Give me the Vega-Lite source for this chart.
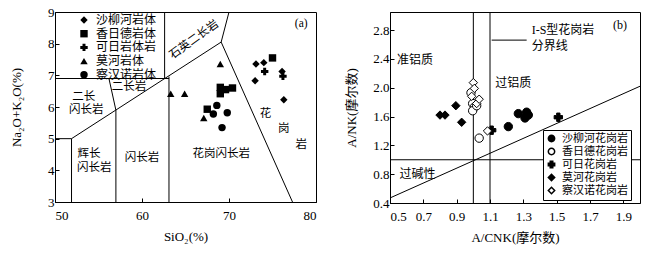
{
  "$schema": "https://vega.github.io/schema/vega-lite/v6.json",
  "background": "white",
  "padding": {"left": 10, "top": 5, "right": 0, "bottom": 0},
  "spacing": 28,
  "config": {
    "view": {"stroke": "black", "strokeWidth": 1},
    "font": "Liberation Serif",
    "axis": {
      "grid": false,
      "domainColor": "black",
      "tickColor": "black",
      "labelColor": "black",
      "titleColor": "black",
      "labelFont": "Liberation Serif",
      "labelFontSize": 13,
      "titleFont": "Liberation Serif, Noto Sans CJK SC",
      "titleFontSize": 13,
      "titleFontWeight": "normal",
      "tickSize": -4
    },
    "legend": {
      "title": null,
      "labelFont": "Noto Sans CJK SC",
      "labelColor": "black"
    }
  },
  "datasets": {
    "linesA": [
      {"x": 50, "y": 5.0, "x2": 51.9, "y2": 5.0},
      {"x": 51.9, "y": 3, "x2": 51.9, "y2": 5.0},
      {"x": 51.9, "y": 5.0, "x2": 69.1, "y2": 8.05},
      {"x": 57, "y": 3, "x2": 57, "y2": 5.9},
      {"x": 57, "y": 5.9, "x2": 56.2, "y2": 6.9},
      {"x": 50, "y": 6.9, "x2": 63.1, "y2": 6.9},
      {"x": 63.1, "y": 3, "x2": 63.1, "y2": 6.96},
      {"x": 62.6, "y": 6.9, "x2": 62.6, "y2": 9},
      {"x": 69.1, "y": 8.05, "x2": 70, "y2": 9},
      {"x": 69.1, "y": 8.05, "x2": 77.3, "y2": 3}
    ],
    "textA": [
      {"x": 78.3, "y": 8.62, "label": "(a)"},
      {"x": 58.5, "y": 6.63, "label": "二长岩"},
      {"x": 53.3, "y": 6.31, "label": "二长"},
      {"x": 53.6, "y": 5.92, "label": "闪长岩"},
      {"x": 53.9, "y": 4.52, "label": "辉长"},
      {"x": 54.5, "y": 4.07, "label": "闪长岩"},
      {"x": 60.0, "y": 4.39, "label": "闪长岩"},
      {"x": 69.1, "y": 4.52, "label": "花岗闪长岩"},
      {"x": 74.2, "y": 5.78, "label": "花"},
      {"x": 76.3, "y": 5.3, "label": "岗"},
      {"x": 78.3, "y": 4.8, "label": "岩"}
    ],
    "textA2": [
      {"x": 66.0, "y": 8.12, "label": "石英二长岩"}
    ],
    "pointsA": [
      {"x": 73.1, "y": 7.36, "rock": "沙柳河岩体"},
      {"x": 74.0, "y": 7.4, "rock": "沙柳河岩体"},
      {"x": 73.0, "y": 6.83, "rock": "沙柳河岩体"},
      {"x": 76.1, "y": 7.12, "rock": "沙柳河岩体"},
      {"x": 76.3, "y": 6.23, "rock": "沙柳河岩体"},
      {"x": 75.0, "y": 7.55, "rock": "香日德岩体"},
      {"x": 69.0, "y": 6.62, "rock": "香日德岩体"},
      {"x": 69.6, "y": 6.55, "rock": "香日德岩体"},
      {"x": 70.4, "y": 6.6, "rock": "香日德岩体"},
      {"x": 69.0, "y": 6.42, "rock": "香日德岩体"},
      {"x": 67.5, "y": 5.93, "rock": "香日德岩体"},
      {"x": 74.1, "y": 7.12, "rock": "可日岩体岩"},
      {"x": 76.2, "y": 6.97, "rock": "可日岩体岩"},
      {"x": 69.0, "y": 7.36, "rock": "莫河岩体"},
      {"x": 63.3, "y": 6.42, "rock": "莫河岩体"},
      {"x": 64.9, "y": 6.42, "rock": "莫河岩体"},
      {"x": 67.1, "y": 5.65, "rock": "莫河岩体"},
      {"x": 68.6, "y": 6.05, "rock": "察汉诺岩体"},
      {"x": 69.8, "y": 5.82, "rock": "察汉诺岩体"},
      {"x": 69.2, "y": 5.35, "rock": "察汉诺岩体"},
      {"x": 68.2, "y": 5.78, "rock": "察汉诺岩体"}
    ],
    "linesB": [
      {"x": 1.0, "y": 0.4, "x2": 1.0, "y2": 3.05},
      {"x": 1.1, "y": 0.4, "x2": 1.1, "y2": 3.05},
      {"x": 0.5, "y": 1.0, "x2": 2.0, "y2": 1.0},
      {"x": 0.5, "y": 0.47, "x2": 2.0, "y2": 2.02},
      {"x": 1.11, "y": 2.66, "x2": 1.32, "y2": 2.66}
    ],
    "textB": [
      {"x": 1.88, "y": 2.87, "label": "(b)"},
      {"x": 0.65, "y": 2.38, "label": "准铝质"},
      {"x": 1.24, "y": 2.06, "label": "过铝质"},
      {"x": 0.665, "y": 0.8, "label": "过碱性"}
    ],
    "textB2": [
      {"x": 1.35, "y": 2.8, "label": "I-S型花岗岩"},
      {"x": 1.35, "y": 2.58, "label": "分界线"}
    ],
    "pointsB": [
      {"x": 1.21, "y": 1.46, "granite": "沙柳河花岗岩"},
      {"x": 1.27, "y": 1.64, "granite": "沙柳河花岗岩"},
      {"x": 1.32, "y": 1.66, "granite": "沙柳河花岗岩"},
      {"x": 1.31, "y": 1.58, "granite": "沙柳河花岗岩"},
      {"x": 1.33, "y": 1.62, "granite": "沙柳河花岗岩"},
      {"x": 0.986, "y": 1.93, "granite": "香日德花岗岩"},
      {"x": 0.996, "y": 1.78, "granite": "香日德花岗岩"},
      {"x": 1.006, "y": 1.73, "granite": "香日德花岗岩"},
      {"x": 0.996, "y": 1.68, "granite": "香日德花岗岩"},
      {"x": 1.02, "y": 1.75, "granite": "香日德花岗岩"},
      {"x": 1.035, "y": 1.3, "granite": "香日德花岗岩"},
      {"x": 1.11, "y": 1.41, "granite": "可日花岗岩"},
      {"x": 1.51, "y": 1.59, "granite": "可日花岗岩"},
      {"x": 0.8, "y": 1.62, "granite": "莫河花岗岩"},
      {"x": 0.83, "y": 1.62, "granite": "莫河花岗岩"},
      {"x": 0.895, "y": 1.75, "granite": "莫河花岗岩"},
      {"x": 0.93, "y": 1.52, "granite": "莫河花岗岩"},
      {"x": 1.0, "y": 2.07, "granite": "察汉诺花岗岩"},
      {"x": 1.006, "y": 1.99, "granite": "察汉诺花岗岩"},
      {"x": 1.02, "y": 1.78, "granite": "察汉诺花岗岩"},
      {"x": 1.035, "y": 1.84, "granite": "察汉诺花岗岩"},
      {"x": 1.085, "y": 1.4, "granite": "察汉诺花岗岩"},
      {"x": 0.99, "y": 1.88, "granite": "察汉诺花岗岩"}
    ]
  },
  "resolve": {
    "scale": {"shape": "independent", "fill": "independent", "color": "independent"},
    "legend": {"shape": "independent", "fill": "independent"}
  },
  "hconcat": [
    {
      "width": 261,
      "height": 190,
      "layer": [
        {
          "data": {"name": "linesA"},
          "mark": {"type": "rule", "color": "black", "strokeWidth": 1},
          "encoding": {
            "x": {"field": "x", "type": "quantitative", "scale": {"domain": [50, 80], "nice": false, "zero": false},
                  "axis": {"values": [50, 60, 70, 80], "tickCount": 20, "format": "d", "title": "SiO₂(%)", "titlePadding": 8, "labelPadding": 11, "labelOverlap": false}},
            "y": {"field": "y", "type": "quantitative", "scale": {"domain": [3, 9], "nice": false, "zero": false},
                  "axis": {"values": [3, 4, 5, 6, 7, 8, 9], "tickCount": 20, "format": "d", "title": "Na₂O+K₂O(%)", "titlePadding": 24, "labelPadding": 5, "labelOverlap": false}},
            "x2": {"field": "x2"},
            "y2": {"field": "y2"}
          }
        },
        {
          "data": {"name": "textA"},
          "mark": {"type": "text", "font": "Liberation Serif, Noto Sans CJK SC", "fontSize": 11.5, "color": "black", "align": "center", "baseline": "middle"},
          "encoding": {
            "x": {"field": "x", "type": "quantitative"},
            "y": {"field": "y", "type": "quantitative"},
            "text": {"field": "label"}
          }
        },
        {
          "data": {"name": "textA2"},
          "mark": {"type": "text", "font": "Noto Sans CJK SC", "fontSize": 11.5, "color": "black", "align": "center", "baseline": "middle", "angle": -36},
          "encoding": {
            "x": {"field": "x", "type": "quantitative"},
            "y": {"field": "y", "type": "quantitative"},
            "text": {"field": "label"}
          }
        },
        {
          "data": {"name": "pointsA"},
          "mark": {"type": "point", "filled": true, "color": "black", "size": 55, "opacity": 1},
          "encoding": {
            "x": {"field": "x", "type": "quantitative"},
            "y": {"field": "y", "type": "quantitative"},
            "shape": {
              "field": "rock", "type": "nominal",
              "scale": {"domain": ["沙柳河岩体", "香日德岩体", "可日岩体岩", "莫河岩体", "察汉诺岩体"],
                        "range": ["diamond", "square", "cross", "triangle-up", "circle"]},
              "legend": {"orient": "none", "legendX": 23, "legendY": 2, "labelFontSize": 12, "symbolSize": 55,
                         "symbolFillColor": "black", "rowPadding": -0.3, "labelOffset": 6, "padding": 0}
            }
          }
        }
      ]
    },
    {
      "width": 250,
      "height": 191,
      "layer": [
        {
          "data": {"name": "linesB"},
          "mark": {"type": "rule", "color": "black", "strokeWidth": 1},
          "encoding": {
            "x": {"field": "x", "type": "quantitative", "scale": {"domain": [0.5, 2.0], "nice": false, "zero": false},
                  "axis": {"values": [0.5, 0.7, 0.9, 1.1, 1.3, 1.5, 1.7, 1.9], "tickCount": 20, "format": ".1f", "title": "A/CNK(摩尔数)", "titlePadding": 8, "labelPadding": 11, "labelOverlap": false}},
            "y": {"field": "y", "type": "quantitative", "scale": {"domain": [0.4, 3.05], "nice": false, "zero": false},
                  "axis": {"values": [0.4, 0.8, 1.2, 1.6, 2.0, 2.4, 2.8], "tickCount": 20, "format": ".1f", "title": "A/NK(摩尔数)", "titlePadding": 14, "labelPadding": 5, "labelOverlap": false}},
            "x2": {"field": "x2"},
            "y2": {"field": "y2"}
          }
        },
        {
          "data": {"name": "textB"},
          "mark": {"type": "text", "font": "Liberation Serif, Noto Sans CJK SC", "fontSize": 12, "color": "black", "align": "center", "baseline": "middle"},
          "encoding": {
            "x": {"field": "x", "type": "quantitative"},
            "y": {"field": "y", "type": "quantitative"},
            "text": {"field": "label"}
          }
        },
        {
          "data": {"name": "textB2"},
          "mark": {"type": "text", "font": "Liberation Serif, Noto Sans CJK SC", "fontSize": 12, "color": "black", "align": "left", "baseline": "middle"},
          "encoding": {
            "x": {"field": "x", "type": "quantitative"},
            "y": {"field": "y", "type": "quantitative"},
            "text": {"field": "label"}
          }
        },
        {
          "data": {"name": "pointsB"},
          "mark": {"type": "point", "stroke": "black", "strokeWidth": 1, "size": 70, "opacity": 1},
          "encoding": {
            "x": {"field": "x", "type": "quantitative"},
            "y": {"field": "y", "type": "quantitative"},
            "shape": {
              "field": "granite", "type": "nominal",
              "scale": {"domain": ["沙柳河花岗岩", "香日德花岗岩", "可日花岗岩", "莫河花岗岩", "察汉诺花岗岩"],
                        "range": ["circle", "circle", "cross", "diamond", "diamond"]},
              "legend": {"orient": "none", "legendX": 153, "legendY": 118, "labelFontSize": 11, "symbolSize": 40,
                         "rowPadding": 0, "labelOffset": 5, "padding": 3, "strokeColor": "black", "fillColor": "white",
                         "encode": {"symbols": {"update": {"stroke": {"value": "black"}, "strokeWidth": {"value": 1}}}}}
            },
            "fill": {
              "field": "granite", "type": "nominal",
              "scale": {"domain": ["沙柳河花岗岩", "香日德花岗岩", "可日花岗岩", "莫河花岗岩", "察汉诺花岗岩"],
                        "range": ["black", "white", "black", "black", "white"]},
              "legend": {"orient": "none", "legendX": 153, "legendY": 118, "labelFontSize": 11, "symbolSize": 40,
                         "rowPadding": 0, "labelOffset": 5, "padding": 3, "strokeColor": "black", "fillColor": "white",
                         "encode": {"symbols": {"update": {"stroke": {"value": "black"}, "strokeWidth": {"value": 1}}}}}
            }
          }
        }
      ]
    }
  ]
}
